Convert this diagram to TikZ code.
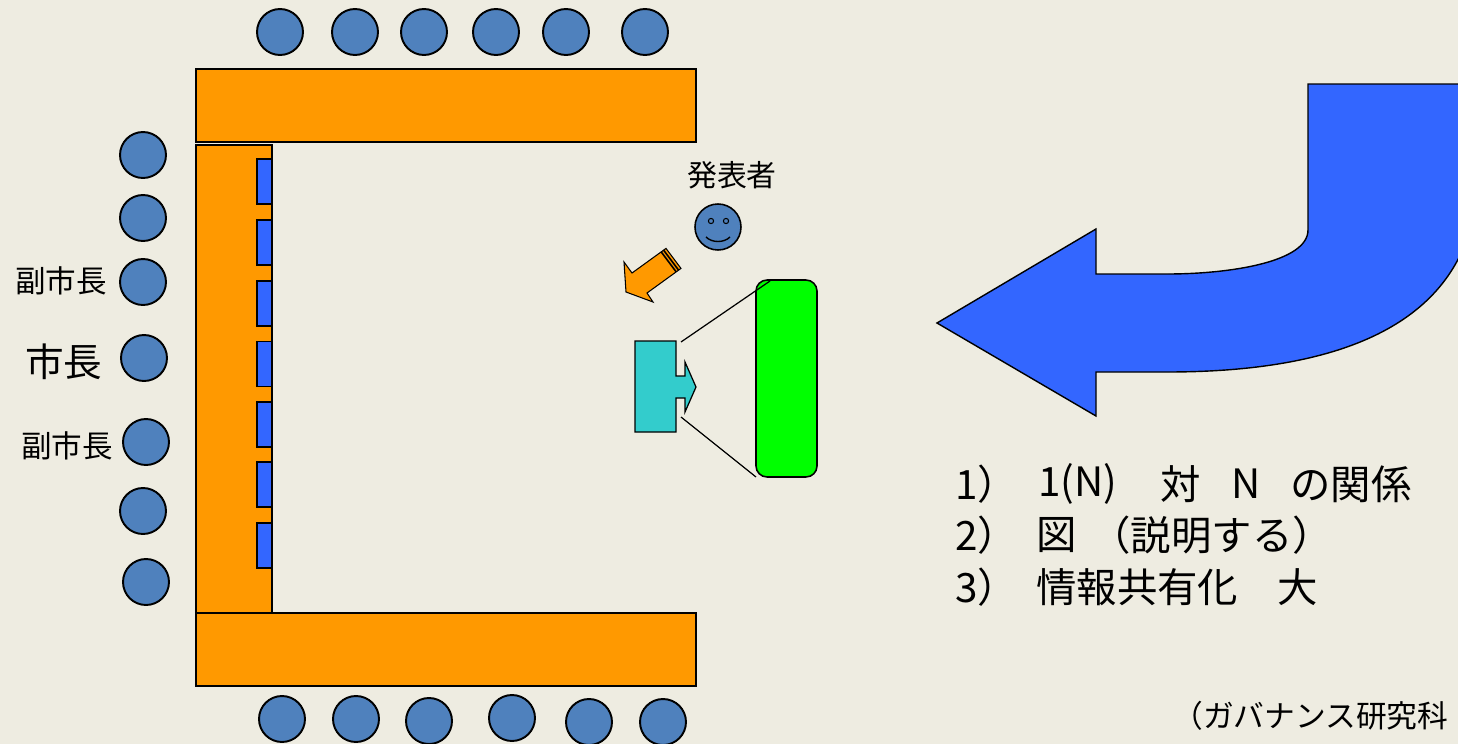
\documentclass[tikz,border=0pt]{standalone}
\usepackage{fontspec}
\setmainfont{Noto Sans CJK JP}
\definecolor{bgc}{RGB}{238,236,225}
\definecolor{seatblue}{RGB}{79,129,189}
\definecolor{tableorange}{RGB}{255,153,0}
\definecolor{pcblue}{RGB}{51,102,255}
\definecolor{projcyan}{RGB}{51,204,204}
\definecolor{screengreen}{RGB}{0,255,0}
\begin{document}
\begin{tikzpicture}[x=0.02cm,y=-0.02cm,
  seat/.style={circle, draw=black, fill=seatblue, line width=1.1pt, minimum size=0.92cm, inner sep=0pt},
  tablebox/.style={draw=black, fill=tableorange, line width=1.1pt, inner sep=0pt},
  pcbox/.style={draw=black, fill=pcblue, line width=0.7pt, minimum width=0.3cm, minimum height=0.9cm, inner sep=0pt},
  lbl/.style={inner sep=0pt, text=black},
  outl/.style={draw=black, line width=0.7pt}]
\path[use as bounding box] (0,0) rectangle (1458,744);
\fill[bgc] (0,0) rectangle (1458,744);

% tables
\node[tablebox, minimum width=10cm, minimum height=1.46cm] (toptable) at (446,105.5) {};
\node[tablebox, minimum width=1.52cm, minimum height=9.36cm] (lefttable) at (234,379) {};
\node[tablebox, minimum width=10cm, minimum height=1.46cm] (bottable) at (446,649.5) {};

% PCs on the left table
\foreach \y [count=\i] in {181.5,242.5,303.5,364,424.5,484.5,545.5}
  \node[pcbox] (pc\i) at (264.5,\y) {};

% seats
\foreach \x [count=\i] in {280,355,424,496,566,645}
  \node[seat] (top\i) at (\x,32) {};
\node[seat] (left1) at (143,155) {};
\node[seat] (left2) at (143,218) {};
\node[seat] (left3) at (143,282) {};
\node[seat] (left4) at (144,358) {};
\node[seat] (left5) at (146,442) {};
\node[seat] (left6) at (143,511) {};
\node[seat] (left7) at (146,582) {};
\node[seat] (bot1) at (282,719) {};
\node[seat] (bot2) at (356,719) {};
\node[seat] (bot3) at (429,721) {};
\node[seat] (bot4) at (512,718) {};
\node[seat] (bot5) at (589,722) {};
\node[seat] (bot6) at (663,722) {};

% labels on the left
\node[lbl, font=\fontsize{17.4}{20}\selectfont] (vm1) at (61,281) {副市長};
\node[lbl, font=\fontsize{22}{26}\selectfont] (mayor) at (64,362) {市長};
\node[lbl, font=\fontsize{17.4}{20}\selectfont] (vm2) at (67,446) {副市長};

% speaker
\node[lbl, font=\fontsize{17}{20}\selectfont] (spklbl) at (732,175) {発表者};
\node[seat, line width=0.9pt] (speaker) at (718,227) {};
\draw[line width=0.6pt] (711,221) circle (2.6);
\draw[line width=0.6pt] (726,221) circle (2.6);
\draw[line width=0.8pt] (706,237) .. controls (712,243) and (724,243) .. (730,237);

% orange striped arrow
\coordinate (oa-tip) at (626,292);
\filldraw[fill=tableorange, draw=black, line width=0.6pt]
  (oa-tip) -- (624,262) -- (632,273) -- (666,248.4) -- (681,268.4) -- (647,293) -- (653,302) -- cycle;
\draw[line width=0.9pt] (661.2,251.9) -- (676.2,271.9);
\draw[line width=0.9pt] (663.6,250.2) -- (678.6,270.2);

% projector
\filldraw[fill=projcyan, draw=black, line width=0.7pt]
  (635,341) -- (676,341) -- (676,376) -- (685,376) -- (685,362) -- (696,387)
  -- (685,412) -- (685,398) -- (676,398) -- (676,432) -- (635,432) -- cycle;
\coordinate (proj-top) at (681,342);
\coordinate (proj-bot) at (681,417);

% screen
\node[draw=black, fill=screengreen, line width=0.9pt, rounded corners=0.22cm,
      minimum width=1.22cm, minimum height=3.94cm, inner sep=0pt] (screen) at (786.5,378.5) {};
\coordinate (scr-top) at (770,281);
\coordinate (scr-bot) at (756,477);
\draw[line width=0.7pt] (proj-top) -- (scr-top);
\draw[line width=0.7pt] (proj-bot) -- (scr-bot);

% list text
\begin{scope}[every node/.style={lbl, anchor=west, font=\fontsize{23}{28}\selectfont}]
\node (l1a) at (955,484) {1）};
\node (l1b) at (1038,484) {1(N)};
\node (l1c) at (1160,484) {対};
\node (l1d) at (1231,484) {N};
\node (l1e) at (1290,484) {の関係};
\node (l2a) at (955,535) {2）};
\node (l2b) at (1036,535) {図};
\node (l2c) at (1090,535) {（説明する）};
\node (l3a) at (955,587) {3）};
\node (l3b) at (1036,587) {情報共有化};
\node (l3c) at (1277,587) {大};
\end{scope}

\begin{scope}
\clip (0,0) rectangle (1458,744);
% big curved arrow
\filldraw[fill=pcblue, draw=black, line width=0.8pt]
  (1308,84) -- (1470,84) -- (1470,230) .. controls (1440,330) and (1330,372) .. (1167,372)
  -- (1096,372) -- (1096,416) -- (937,323) -- (1096,229) -- (1096,274) -- (1167,274)
  .. controls (1230,274) and (1308,262) .. (1308,230) -- cycle;
\node[lbl, anchor=west, font=\fontsize{17.5}{20}\selectfont] (credit) at (1172,716) {（ガバナンス研究科};
\end{scope}
\end{tikzpicture}
\end{document}
